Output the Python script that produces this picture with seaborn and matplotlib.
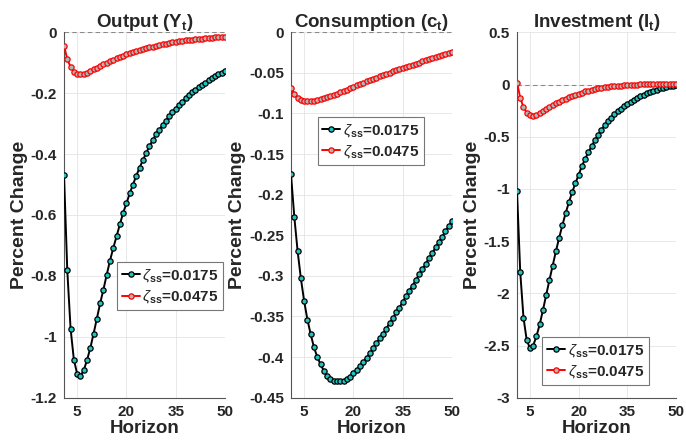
import numpy as np
import pandas as pd
import matplotlib
matplotlib.use("Agg")
import matplotlib.pyplot as plt
import seaborn as sns

horizon = list(range(1, 51))

output_low = [-0.467, -0.782, -0.973, -1.075, -1.121, -1.129, -1.110, -1.077, -1.037, -0.990,
              -0.940, -0.890, -0.845, -0.796, -0.750, -0.708, -0.670, -0.631, -0.593, -0.562,
              -0.529, -0.500, -0.471, -0.445, -0.420, -0.397, -0.374, -0.354, -0.335, -0.320,
              -0.305, -0.290, -0.276, -0.263, -0.251, -0.239, -0.228, -0.217, -0.207, -0.197,
              -0.190, -0.181, -0.173, -0.165, -0.158, -0.151, -0.145, -0.138, -0.133, -0.127]
output_high = [-0.044, -0.088, -0.114, -0.129, -0.137, -0.138, -0.137, -0.133, -0.127, -0.122,
               -0.116, -0.111, -0.105, -0.100, -0.094, -0.090, -0.085, -0.081, -0.077, -0.072,
               -0.069, -0.065, -0.061, -0.058, -0.055, -0.053, -0.049, -0.047, -0.044, -0.042,
               -0.040, -0.037, -0.035, -0.033, -0.032, -0.030, -0.028, -0.026, -0.025, -0.024,
               -0.023, -0.022, -0.021, -0.020, -0.019, -0.018, -0.017, -0.016, -0.015, -0.014]

cons_low = [-0.175, -0.227, -0.269, -0.303, -0.331, -0.354, -0.372, -0.388, -0.400, -0.409,
            -0.417, -0.423, -0.427, -0.429, -0.430, -0.430, -0.429, -0.427, -0.424, -0.420,
            -0.416, -0.411, -0.406, -0.401, -0.395, -0.389, -0.383, -0.377, -0.371, -0.365,
            -0.358, -0.352, -0.345, -0.339, -0.332, -0.325, -0.318, -0.312, -0.305, -0.298,
            -0.292, -0.285, -0.278, -0.272, -0.265, -0.258, -0.252, -0.245, -0.239, -0.232]
cons_high = [-0.0680, -0.0756, -0.0806, -0.0834, -0.0847, -0.0850, -0.0850, -0.0847, -0.0838, -0.0826,
             -0.0813, -0.0800, -0.0786, -0.0772, -0.0757, -0.0740, -0.0722, -0.0705, -0.0688, -0.0671,
             -0.0655, -0.0638, -0.0621, -0.0605, -0.0589, -0.0573, -0.0557, -0.0541, -0.0526, -0.0511,
             -0.0496, -0.0481, -0.0467, -0.0453, -0.0440, -0.0426, -0.0412, -0.0398, -0.0385, -0.0372,
             -0.0358, -0.0345, -0.0332, -0.0320, -0.0308, -0.0296, -0.0284, -0.0272, -0.0260, -0.0240]

inv_low = [-1.022, -1.798, -2.234, -2.449, -2.526, -2.500, -2.410, -2.298, -2.160, -2.016,
           -1.872, -1.734, -1.596, -1.468, -1.346, -1.231, -1.128, -1.032, -0.946, -0.865,
           -0.782, -0.712, -0.651, -0.590, -0.535, -0.484, -0.436, -0.391, -0.353, -0.317,
           -0.285, -0.256, -0.231, -0.205, -0.186, -0.163, -0.144, -0.128, -0.109, -0.096,
           -0.083, -0.071, -0.058, -0.048, -0.038, -0.029, -0.022, -0.016, -0.010, -0.003]
inv_high = [0.019, -0.128, -0.218, -0.269, -0.295, -0.298, -0.288, -0.272, -0.253, -0.234,
            -0.215, -0.196, -0.179, -0.163, -0.147, -0.135, -0.122, -0.109, -0.096, -0.087,
            -0.077, -0.067, -0.058, -0.051, -0.045, -0.038, -0.032, -0.027, -0.022, -0.019,
            -0.016, -0.013, -0.010, -0.006, -0.005, -0.003, -0.002, 0.000, 0.002, 0.003,
            0.004, 0.005, 0.006, 0.006, 0.007, 0.007, 0.008, 0.008, 0.008, 0.008]

titles = [r"Output (Y$_\mathbf{t}$)", r"Consumption (c$_\mathbf{t}$)", r"Investment (I$_\mathbf{t}$)"]
label_low = r"$\zeta_\mathbf{ss}$=0.0175"
label_high = r"$\zeta_\mathbf{ss}$=0.0475"
x_ticks = [5, 20, 35, 50]
y_ticks = [[0, -0.2, -0.4, -0.6, -0.8, -1.0, -1.2],
           [0, -0.05, -0.1, -0.15, -0.2, -0.25, -0.3, -0.35, -0.4, -0.45],
           [0.5, 0, -0.5, -1, -1.5, -2, -2.5, -3]]
y_labels = [["0", "-0.2", "-0.4", "-0.6", "-0.8", "-1", "-1.2"],
            ["0", "-0.05", "-0.1", "-0.15", "-0.2", "-0.25", "-0.3", "-0.35", "-0.4", "-0.45"],
            ["0.5", "0", "-0.5", "-1", "-1.5", "-2", "-2.5", "-3"]]
y_lims = [(-1.2, 0), (-0.45, 0), (-3, 0.5)]

sns.set_style("white")
plt.rcParams["font.family"] = ["Liberation Sans", "DejaVu Sans"]
plt.rcParams["mathtext.fontset"] = "custom"
plt.rcParams["mathtext.rm"] = "Liberation Sans"
plt.rcParams["mathtext.bf"] = "Liberation Sans:bold"
plt.rcParams["mathtext.it"] = "Liberation Sans:italic"

fig = plt.figure(figsize=(6.86, 4.48), dpi=100)
lefts = [64 / 686, 291 / 686, 517 / 686]
widths = [161 / 686, 161 / 686, 159 / 686]
bottom = 1 - 397.7 / 448
height = 365.4 / 448
leg_anchor = [(0.99, 0.305), (0.495, 0.703), (0.494, 0.101)]
leg_loc = ["center right", "center", "center"]

series = [(output_low, output_high), (cons_low, cons_high), (inv_low, inv_high)]
for i in range(3):
    ax = fig.add_axes([lefts[i], bottom, widths[i], height])
    low, high = series[i]
    ax.axhline(0, color="#8a8a8a", linestyle=(0, (4, 3)), linewidth=0.8, zorder=1)
    sns.lineplot(x=horizon, y=low, ax=ax, color="black", linewidth=1.4,
                 marker="o", markersize=3.8, markerfacecolor="#20c4c0",
                 markeredgecolor="black", markeredgewidth=0.9, label=label_low, zorder=3)
    sns.lineplot(x=horizon, y=high, ax=ax, color="#ff0000", linewidth=1.4,
                 marker="o", markersize=3.8, markerfacecolor="#b4b4b4",
                 markeredgecolor="#ff0000", markeredgewidth=0.9, label=label_high, zorder=4)
    ax.set_xlim(1, 50)
    ax.set_ylim(*y_lims[i])
    ax.set_xticks(x_ticks)
    ax.set_xticklabels([str(t) for t in x_ticks])
    ax.set_yticks(y_ticks[i])
    ax.set_yticklabels(y_labels[i])
    ax.grid(True, color="#e4e4e4", linewidth=0.6)
    ax.set_axisbelow(True)
    for s in ["top", "right"]:
        ax.spines[s].set_visible(False)
    for s in ["left", "bottom"]:
        ax.spines[s].set_color("#555555")
        ax.spines[s].set_linewidth(0.8)
    ax.tick_params(direction="in", length=3, width=0.7, color="#555555",
                   labelsize=11, labelcolor="#262626", pad=5)
    for lab in ax.get_xticklabels() + ax.get_yticklabels():
        lab.set_fontweight("bold")
    ax.set_title(titles[i], fontsize=13.5, fontweight="bold", pad=4)
    ax.set_xlabel("Horizon", fontsize=13.5, fontweight="bold", color="#262626", labelpad=1)
    ax.set_ylabel("Percent Change", fontsize=14, fontweight="bold", color="#262626", labelpad=2)
    leg = ax.legend(loc=leg_loc[i], bbox_to_anchor=leg_anchor[i], fancybox=False,
                    framealpha=1, edgecolor="#777777", fontsize=11,
                    handlelength=1.2, handletextpad=0.15, borderpad=0.3,
                    labelspacing=0.3, borderaxespad=0)
    leg.get_frame().set_linewidth(0.8)
    for t in leg.get_texts():
        t.set_fontweight("bold")

fig.savefig("out.png", dpi=100)
